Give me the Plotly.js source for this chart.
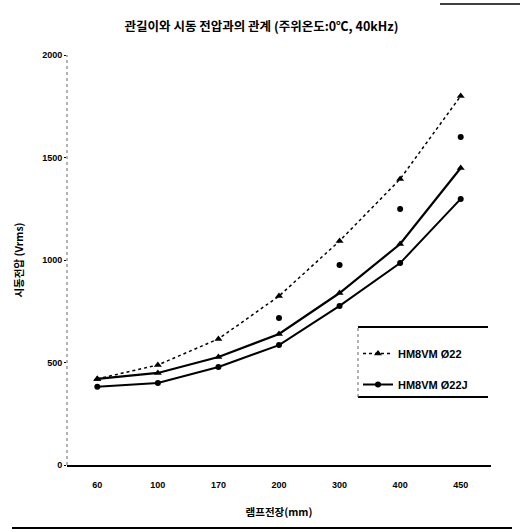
<!DOCTYPE html>
<html>
<head>
<meta charset="utf-8">
<script src="https://cdn.plot.ly/plotly-3.0.1.min.js"></script>
<style>html,body{margin:0;padding:0;background:#fff;}#chart{width:523px;height:532px;}</style>
</head>
<body>
<div id="chart"></div>
<script>
// Data
var lampLengths = ["60", "100", "170", "200", "300", "400", "450"];
var hm22 = [420, 488, 615, 824, 1093, 1395, 1800];          // dotted, triangles
var hm22Dots = [null, null, null, 717, 976, 1249, 1600];   // loose points
var hm22Upper = [420, 449, 527, 639, 839, 1078, 1449];      // solid, triangles
var hm22J = [382, 400, 478, 585, 776, 985, 1298];           // solid, dots

var yTicks = [0, 500, 1000, 1500, 2000];
var yTickText = ["0", "500", "1000", "1500", "2000"];

var FONT = "'Liberation Sans', 'Noto Sans CJK KR', sans-serif";
var KFONT = "'Noto Sans CJK KR', 'Liberation Sans', sans-serif";

var traces = [
  {x: lampLengths, y: hm22, name: "HM8VM Ø22", mode: "lines+markers",
   line: {color: "#000", width: 1.5, dash: "dot"},
   marker: {symbol: "triangle-up", size: 7, color: "#000"}, legend: "legend"},
  {x: lampLengths, y: hm22Dots, mode: "markers", showlegend: false,
   marker: {symbol: "circle", size: 6, color: "#000"}},
  {x: lampLengths, y: hm22Upper, mode: "lines+markers", showlegend: false,
   line: {color: "#000", width: 2.2},
   marker: {symbol: "triangle-up", size: 7, color: "#000"}},
  {x: lampLengths, y: hm22J, name: "HM8VM Ø22J", mode: "lines+markers",
   line: {color: "#000", width: 2},
   marker: {symbol: "circle", size: 6, color: "#000"}, legend: "legend2"}
];

var layout = {
  width: 523, height: 532,
  margin: {l: 67, r: 32, t: 55, b: 67},
  paper_bgcolor: "#fff", plot_bgcolor: "#fff",
  font: {family: FONT, color: "#000", size: 9},
  title: {text: "<b>관길이와 시동 전압과의 관계 (주위온도:0℃, 40kHz)</b>",
          font: {family: KFONT, size: 12.5, color: "#000"},
          x: 0.5, xanchor: "center", y: 1 - 27/532, yanchor: "middle"},
  xaxis: {type: "category", range: [-0.5, 6.5], showgrid: false, zeroline: false,
          showline: true, linecolor: "#000", linewidth: 2, ticks: "",
          tickfont: {family: FONT, size: 9, color: "#000", weight: "bold"},
          ticklabelstandoff: 10,
          title: {text: "<b>램프전장(mm)</b>", font: {family: KFONT, size: 10.5, color: "#000"}, standoff: 20}},
  yaxis: {range: [0, 2000], tickvals: yTicks, ticktext: yTickText, showgrid: false,
          zeroline: false, showline: false, ticks: "outside", ticklen: 2, tickcolor: "#000",
          tickfont: {family: FONT, size: 9, color: "#000", weight: "bold"},
          title: {text: "<b>시동전압 (Vrms)</b>", font: {family: KFONT, size: 10.5, color: "#000"}, standoff: 16}},
  legend: {x: (358-67)/424, y: (465-339)/410, xanchor: "left", yanchor: "top",
           bgcolor: "rgba(255,255,255,0)", borderwidth: 0,
           font: {family: FONT, size: 11, color: "#000", weight: "bold"}},
  legend2: {x: (358-67)/424, y: (465-370)/410, xanchor: "left", yanchor: "top",
           bgcolor: "rgba(255,255,255,0)", borderwidth: 0,
           font: {family: FONT, size: 11, color: "#000", weight: "bold"}},
  shapes: [
    {type: "line", xref: "paper", yref: "paper", x0: 0, x1: 0, y0: 0, y1: 1,
     line: {color: "#666", width: 1, dash: "dot"}},
    {type: "line", xref: "paper", yref: "paper", x0: (358-67)/424, x1: (488-67)/424,
     y0: (465-327)/410, y1: (465-327)/410, line: {color: "#000", width: 2}},
    {type: "line", xref: "paper", yref: "paper", x0: (358-67)/424, x1: (488-67)/424,
     y0: (465-397)/410, y1: (465-397)/410, line: {color: "#000", width: 2}},
    {type: "line", xref: "paper", yref: "paper", x0: (358-67)/424, x1: (358-67)/424,
     y0: (465-397)/410, y1: (465-327)/410, line: {color: "#666", width: 1, dash: "dot"}},
    {type: "line", xref: "paper", yref: "paper", x0: -55/424, x1: (512-67)/424,
     y0: (465-528)/410, y1: (465-528)/410, line: {color: "#000", width: 2}},
    {type: "line", xref: "paper", yref: "paper", x0: (440-67)/424, x1: (520-67)/424,
     y0: (465-4)/410, y1: (465-4)/410, line: {color: "#000", width: 1.5}}
  ]
};

Plotly.newPlot("chart", traces, layout, {displayModeBar: false, staticPlot: true});
</script>
</body>
</html>
